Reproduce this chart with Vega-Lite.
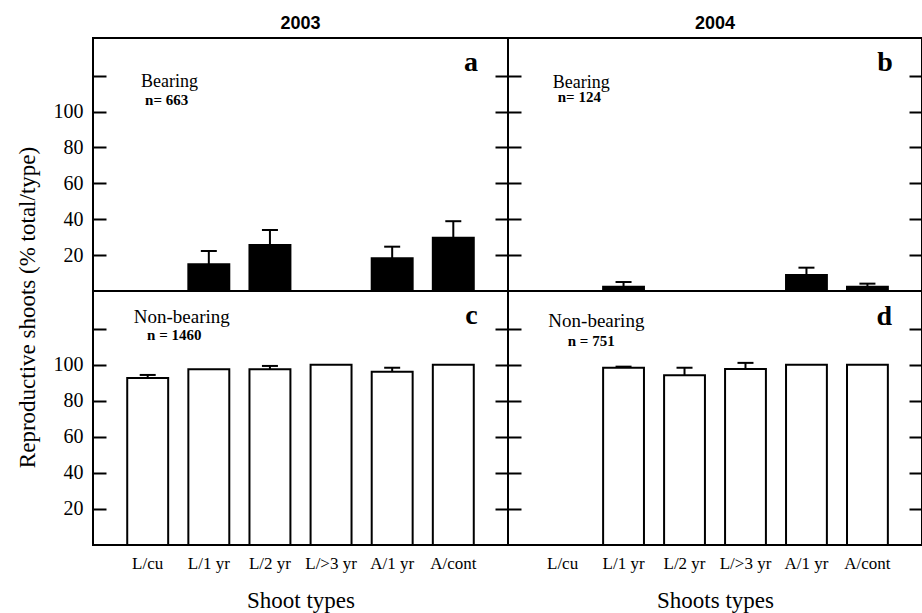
{
  "$schema": "https://vega.github.io/schema/vega-lite/v6.json",
  "padding": {"left": 14, "top": 14, "right": 0, "bottom": 0},
  "background": "white",
  "datasets": {
    "bars": [
      {"panel": "a", "shoot": "L/cu", "value": 0, "hi": null},
      {"panel": "a", "shoot": "L/1 yr", "value": 14.9, "hi": 22.3},
      {"panel": "a", "shoot": "L/2 yr", "value": 25.6, "hi": 34.0},
      {"panel": "a", "shoot": "L/>3 yr", "value": 0, "hi": null},
      {"panel": "a", "shoot": "A/1 yr", "value": 18.2, "hi": 24.7},
      {"panel": "a", "shoot": "A/cont", "value": 29.7, "hi": 38.9},
      {"panel": "b", "shoot": "L/1 yr", "value": 2.4, "hi": 5.0},
      {"panel": "b", "shoot": "L/2 yr", "value": 0, "hi": null},
      {"panel": "b", "shoot": "L/>3 yr", "value": 0, "hi": null},
      {"panel": "b", "shoot": "A/1 yr", "value": 8.9, "hi": 13.0},
      {"panel": "b", "shoot": "A/cont", "value": 2.4, "hi": 4.1},
      {"panel": "c", "shoot": "L/cu", "value": 92.7, "hi": 94.4},
      {"panel": "c", "shoot": "L/1 yr", "value": 97.6, "hi": null},
      {"panel": "c", "shoot": "L/2 yr", "value": 97.6, "hi": 99.4},
      {"panel": "c", "shoot": "L/>3 yr", "value": 100, "hi": null},
      {"panel": "c", "shoot": "A/1 yr", "value": 96.2, "hi": 98.4},
      {"panel": "c", "shoot": "A/cont", "value": 100, "hi": null},
      {"panel": "d", "shoot": "L/1 yr", "value": 98.4, "hi": 99.0},
      {"panel": "d", "shoot": "L/2 yr", "value": 94.2, "hi": 98.4},
      {"panel": "d", "shoot": "L/>3 yr", "value": 97.7, "hi": 101.1},
      {"panel": "d", "shoot": "A/1 yr", "value": 100, "hi": null},
      {"panel": "d", "shoot": "A/cont", "value": 100, "hi": null}
    ],
    "notes": [
      {"panel": "a", "role": "label", "shoot": "L/cu", "pos": 113.7, "text": "Bearing"},
      {"panel": "a", "role": "n", "shoot": "L/cu", "pos": 103.7, "text": "n= 663"},
      {"panel": "a", "role": "letter", "shoot": "A/cont", "pos": 122.4, "text": "a"},
      {"panel": "b", "role": "label", "shoot": "L/cu", "pos": 113.2, "text": "Bearing"},
      {"panel": "b", "role": "n", "shoot": "L/cu", "pos": 105.3, "text": "n= 124"},
      {"panel": "b", "role": "letter", "shoot": "A/cont", "pos": 122.6, "text": "b"},
      {"panel": "c", "role": "label", "shoot": "L/cu", "pos": 123.2, "text": "Non-bearing"},
      {"panel": "c", "role": "n", "shoot": "L/cu", "pos": 113.8, "text": "n = 1460"},
      {"panel": "c", "role": "letter", "shoot": "A/cont", "pos": 122.5, "text": "c"},
      {"panel": "d", "role": "label", "shoot": "L/cu", "pos": 121.2, "text": "Non-bearing"},
      {"panel": "d", "role": "n", "shoot": "L/cu", "pos": 110.5, "text": "n = 751"},
      {"panel": "d", "role": "letter", "shoot": "A/cont", "pos": 122.0, "text": "d"}
    ]
  },
  "config": {
    "view": {"stroke": "black", "strokeWidth": 2},
    "axis": {"minExtent": 0},
    "title": {"font": "Liberation Sans", "fontSize": 18, "fontWeight": "bold", "color": "black", "offset": 5},
    "text": {"font": "Liberation Serif", "color": "black", "baseline": "alphabetic"}
  },
  "columns": 2,
  "spacing": 0,
  "bounds": "flush",
  "concat": [
    {
      "width": 415, "height": 253,
      "title": "2003",
      "layer": [
        {"data": {"name": "bars"}, "transform": [{"filter": "datum.panel == 'a'"}],
         "mark": {"type": "bar", "fill": "black", "stroke": "black", "strokeWidth": 2},
         "encoding": {
           "x": {"field": "shoot", "type": "nominal", "sort": null, "scale": {"domain": ["L/cu", "L/1 yr", "L/2 yr", "L/>3 yr", "A/1 yr", "A/cont"], "paddingInner": 0.33, "paddingOuter": 0.56}, "axis": null},
           "y": {"field": "value", "type": "quantitative", "scale": {"domain": [0, 141], "nice": false}, "axis": {"orient": "left", "values": [20, 40, 60, 80, 100, 120], "labelExpr": "datum.value == 120 ? '' : datum.label", "title": null, "domain": false, "grid": false, "tickSize": -13, "tickWidth": 2, "tickColor": "black", "labelPadding": 23, "labelFont": "Liberation Serif", "labelFontSize": 20, "labelColor": "black"}}
         }},
        {"data": {"name": "bars"}, "transform": [{"filter": "datum.panel == 'a' && datum.hi != null"}],
         "mark": {"type": "rule", "stroke": "black", "strokeWidth": 2},
         "encoding": {"x": {"field": "shoot", "type": "nominal", "axis": null}, "y": {"field": "value", "type": "quantitative", "axis": null}, "y2": {"field": "hi"}}},
        {"data": {"name": "bars"}, "transform": [{"filter": "datum.panel == 'a' && datum.hi != null"}],
         "mark": {"type": "tick", "color": "black", "opacity": 1, "thickness": 2, "size": 16},
         "encoding": {"x": {"field": "shoot", "type": "nominal", "axis": null}, "y": {"field": "hi", "type": "quantitative", "axis": {"orient": "right", "values": [20, 40, 60, 80, 100, 120], "labels": false, "title": null, "domain": false, "grid": false, "tickSize": -13, "tickWidth": 2, "tickColor": "black"}}}},
        {"data": {"name": "notes"}, "transform": [{"filter": "datum.panel == 'a' && datum.role == 'label'"}],
         "mark": {"type": "text", "align": "left", "dx": -6.6, "fontSize": 18},
         "encoding": {"x": {"field": "shoot", "type": "nominal", "axis": null}, "y": {"field": "pos", "type": "quantitative", "axis": null}, "text": {"field": "text"}}},
        {"data": {"name": "notes"}, "transform": [{"filter": "datum.panel == 'a' && datum.role == 'n'"}],
         "mark": {"type": "text", "align": "left", "dx": -2.6, "fontSize": 15, "fontWeight": "bold"},
         "encoding": {"x": {"field": "shoot", "type": "nominal", "axis": null}, "y": {"field": "pos", "type": "quantitative", "axis": null}, "text": {"field": "text"}}},
        {"data": {"name": "notes"}, "transform": [{"filter": "datum.panel == 'a' && datum.role == 'letter'"}],
         "mark": {"type": "text", "align": "right", "dx": 24.8, "fontSize": 28, "fontWeight": "bold"},
         "encoding": {"x": {"field": "shoot", "type": "nominal", "axis": null}, "y": {"field": "pos", "type": "quantitative", "axis": null}, "text": {"field": "text"}}}
      ],
      "resolve": {"axis": {"y": "independent"}}
    },
    {
      "width": 414, "height": 253,
      "title": "2004",
      "layer": [
        {"data": {"name": "bars"}, "transform": [{"filter": "datum.panel == 'b'"}],
         "mark": {"type": "bar", "fill": "black", "stroke": "black", "strokeWidth": 2},
         "encoding": {
           "x": {"field": "shoot", "type": "nominal", "sort": null, "scale": {"domain": ["L/cu", "L/1 yr", "L/2 yr", "L/>3 yr", "A/1 yr", "A/cont"], "paddingInner": 0.33, "paddingOuter": 0.56}, "axis": null},
           "y": {"field": "value", "type": "quantitative", "scale": {"domain": [0, 141], "nice": false}, "axis": {"orient": "left", "values": [20, 40, 60, 80, 100, 120], "labels": false, "title": null, "domain": false, "grid": false, "tickSize": -13, "tickWidth": 2, "tickColor": "black"}}
         }},
        {"data": {"name": "bars"}, "transform": [{"filter": "datum.panel == 'b' && datum.hi != null"}],
         "mark": {"type": "rule", "stroke": "black", "strokeWidth": 2},
         "encoding": {"x": {"field": "shoot", "type": "nominal", "axis": null}, "y": {"field": "value", "type": "quantitative", "axis": null}, "y2": {"field": "hi"}}},
        {"data": {"name": "bars"}, "transform": [{"filter": "datum.panel == 'b' && datum.hi != null"}],
         "mark": {"type": "tick", "color": "black", "opacity": 1, "thickness": 2, "size": 16},
         "encoding": {"x": {"field": "shoot", "type": "nominal", "axis": null}, "y": {"field": "hi", "type": "quantitative", "axis": {"orient": "right", "values": [20, 40, 60, 80, 100, 120], "labels": false, "title": null, "domain": false, "grid": false, "tickSize": -13, "tickWidth": 2, "tickColor": "black"}}}},
        {"data": {"name": "notes"}, "transform": [{"filter": "datum.panel == 'b' && datum.role == 'label'"}],
         "mark": {"type": "text", "align": "left", "dx": -9.8, "fontSize": 18},
         "encoding": {"x": {"field": "shoot", "type": "nominal", "axis": null}, "y": {"field": "pos", "type": "quantitative", "axis": null}, "text": {"field": "text"}}},
        {"data": {"name": "notes"}, "transform": [{"filter": "datum.panel == 'b' && datum.role == 'n'"}],
         "mark": {"type": "text", "align": "left", "dx": -4.8, "fontSize": 15, "fontWeight": "bold"},
         "encoding": {"x": {"field": "shoot", "type": "nominal", "axis": null}, "y": {"field": "pos", "type": "quantitative", "axis": null}, "text": {"field": "text"}}},
        {"data": {"name": "notes"}, "transform": [{"filter": "datum.panel == 'b' && datum.role == 'letter'"}],
         "mark": {"type": "text", "align": "right", "dx": 25.3, "fontSize": 28, "fontWeight": "bold"},
         "encoding": {"x": {"field": "shoot", "type": "nominal", "axis": null}, "y": {"field": "pos", "type": "quantitative", "axis": null}, "text": {"field": "text"}}}
      ],
      "resolve": {"axis": {"y": "independent"}}
    },
    {
      "width": 415, "height": 254,
      "layer": [
        {"data": {"name": "bars"}, "transform": [{"filter": "datum.panel == 'c'"}],
         "mark": {"type": "bar", "fill": "white", "stroke": "black", "strokeWidth": 2},
         "encoding": {
           "x": {"field": "shoot", "type": "nominal", "sort": null, "scale": {"domain": ["L/cu", "L/1 yr", "L/2 yr", "L/>3 yr", "A/1 yr", "A/cont"], "paddingInner": 0.33, "paddingOuter": 0.56}, "axis": {"title": "Shoot types", "ticks": false, "tickSize": 0, "domain": false, "labelPadding": 10, "labelAngle": 0, "labelFont": "Liberation Serif", "labelFontSize": 17, "labelColor": "black", "titleFont": "Liberation Serif", "titleFontSize": 23, "titleFontWeight": "normal", "titleColor": "black", "titlePadding": 18}},
           "y": {"field": "value", "type": "quantitative", "scale": {"domain": [0, 141], "nice": false}, "axis": {"orient": "left", "values": [20, 40, 60, 80, 100, 120], "labelExpr": "datum.value == 120 ? '' : datum.label", "title": "Reproductive shoots (% total/type)", "titleFont": "Liberation Serif", "titleFontSize": 23, "titleFontWeight": "normal", "titleColor": "black", "titleX": -66, "titleY": 16, "titleBaseline": "middle", "titleAngle": -90, "titleAlign": "center", "domain": false, "grid": false, "tickSize": -13, "tickWidth": 2, "tickColor": "black", "labelPadding": 23, "labelFont": "Liberation Serif", "labelFontSize": 20, "labelColor": "black"}}
         }},
        {"data": {"name": "bars"}, "transform": [{"filter": "datum.panel == 'c' && datum.hi != null"}],
         "mark": {"type": "rule", "stroke": "black", "strokeWidth": 2},
         "encoding": {"x": {"field": "shoot", "type": "nominal", "axis": null}, "y": {"field": "value", "type": "quantitative", "axis": null}, "y2": {"field": "hi"}}},
        {"data": {"name": "bars"}, "transform": [{"filter": "datum.panel == 'c' && datum.hi != null"}],
         "mark": {"type": "tick", "color": "black", "opacity": 1, "thickness": 2, "size": 16},
         "encoding": {"x": {"field": "shoot", "type": "nominal", "axis": null}, "y": {"field": "hi", "type": "quantitative", "axis": {"orient": "right", "values": [20, 40, 60, 80, 100, 120], "labels": false, "title": null, "domain": false, "grid": false, "tickSize": -13, "tickWidth": 2, "tickColor": "black"}}}},
        {"data": {"name": "notes"}, "transform": [{"filter": "datum.panel == 'c' && datum.role == 'label'"}],
         "mark": {"type": "text", "align": "left", "dx": -13.9, "fontSize": 19},
         "encoding": {"x": {"field": "shoot", "type": "nominal", "axis": null}, "y": {"field": "pos", "type": "quantitative", "axis": null}, "text": {"field": "text"}}},
        {"data": {"name": "notes"}, "transform": [{"filter": "datum.panel == 'c' && datum.role == 'n'"}],
         "mark": {"type": "text", "align": "left", "dx": -0.6, "fontSize": 15, "fontWeight": "bold"},
         "encoding": {"x": {"field": "shoot", "type": "nominal", "axis": null}, "y": {"field": "pos", "type": "quantitative", "axis": null}, "text": {"field": "text"}}},
        {"data": {"name": "notes"}, "transform": [{"filter": "datum.panel == 'c' && datum.role == 'letter'"}],
         "mark": {"type": "text", "align": "right", "dx": 24.5, "fontSize": 28, "fontWeight": "bold"},
         "encoding": {"x": {"field": "shoot", "type": "nominal", "axis": null}, "y": {"field": "pos", "type": "quantitative", "axis": null}, "text": {"field": "text"}}}
      ],
      "resolve": {"axis": {"y": "independent", "x": "independent"}}
    },
    {
      "width": 414, "height": 254,
      "layer": [
        {"data": {"name": "bars"}, "transform": [{"filter": "datum.panel == 'd'"}],
         "mark": {"type": "bar", "fill": "white", "stroke": "black", "strokeWidth": 2},
         "encoding": {
           "x": {"field": "shoot", "type": "nominal", "sort": null, "scale": {"domain": ["L/cu", "L/1 yr", "L/2 yr", "L/>3 yr", "A/1 yr", "A/cont"], "paddingInner": 0.33, "paddingOuter": 0.56}, "axis": {"title": "Shoots types", "ticks": false, "tickSize": 0, "domain": false, "labelPadding": 10, "labelAngle": 0, "labelFont": "Liberation Serif", "labelFontSize": 17, "labelColor": "black", "titleFont": "Liberation Serif", "titleFontSize": 23, "titleFontWeight": "normal", "titleColor": "black", "titlePadding": 18}},
           "y": {"field": "value", "type": "quantitative", "scale": {"domain": [0, 141], "nice": false}, "axis": {"orient": "left", "values": [20, 40, 60, 80, 100, 120], "labels": false, "title": null, "domain": false, "grid": false, "tickSize": -13, "tickWidth": 2, "tickColor": "black"}}
         }},
        {"data": {"name": "bars"}, "transform": [{"filter": "datum.panel == 'd' && datum.hi != null"}],
         "mark": {"type": "rule", "stroke": "black", "strokeWidth": 2},
         "encoding": {"x": {"field": "shoot", "type": "nominal", "axis": null}, "y": {"field": "value", "type": "quantitative", "axis": null}, "y2": {"field": "hi"}}},
        {"data": {"name": "bars"}, "transform": [{"filter": "datum.panel == 'd' && datum.hi != null"}],
         "mark": {"type": "tick", "color": "black", "opacity": 1, "thickness": 2, "size": 16},
         "encoding": {"x": {"field": "shoot", "type": "nominal", "axis": null}, "y": {"field": "hi", "type": "quantitative", "axis": {"orient": "right", "values": [20, 40, 60, 80, 100, 120], "labels": false, "title": null, "domain": false, "grid": false, "tickSize": -13, "tickWidth": 2, "tickColor": "black"}}}},
        {"data": {"name": "notes"}, "transform": [{"filter": "datum.panel == 'd' && datum.role == 'label'"}],
         "mark": {"type": "text", "align": "left", "dx": -14.2, "fontSize": 19},
         "encoding": {"x": {"field": "shoot", "type": "nominal", "axis": null}, "y": {"field": "pos", "type": "quantitative", "axis": null}, "text": {"field": "text"}}},
        {"data": {"name": "notes"}, "transform": [{"filter": "datum.panel == 'd' && datum.role == 'n'"}],
         "mark": {"type": "text", "align": "left", "dx": 5.2, "fontSize": 15, "fontWeight": "bold"},
         "encoding": {"x": {"field": "shoot", "type": "nominal", "axis": null}, "y": {"field": "pos", "type": "quantitative", "axis": null}, "text": {"field": "text"}}},
        {"data": {"name": "notes"}, "transform": [{"filter": "datum.panel == 'd' && datum.role == 'letter'"}],
         "mark": {"type": "text", "align": "right", "dx": 24.6, "fontSize": 28, "fontWeight": "bold"},
         "encoding": {"x": {"field": "shoot", "type": "nominal", "axis": null}, "y": {"field": "pos", "type": "quantitative", "axis": null}, "text": {"field": "text"}}}
      ],
      "resolve": {"axis": {"y": "independent", "x": "independent"}}
    }
  ]
}
